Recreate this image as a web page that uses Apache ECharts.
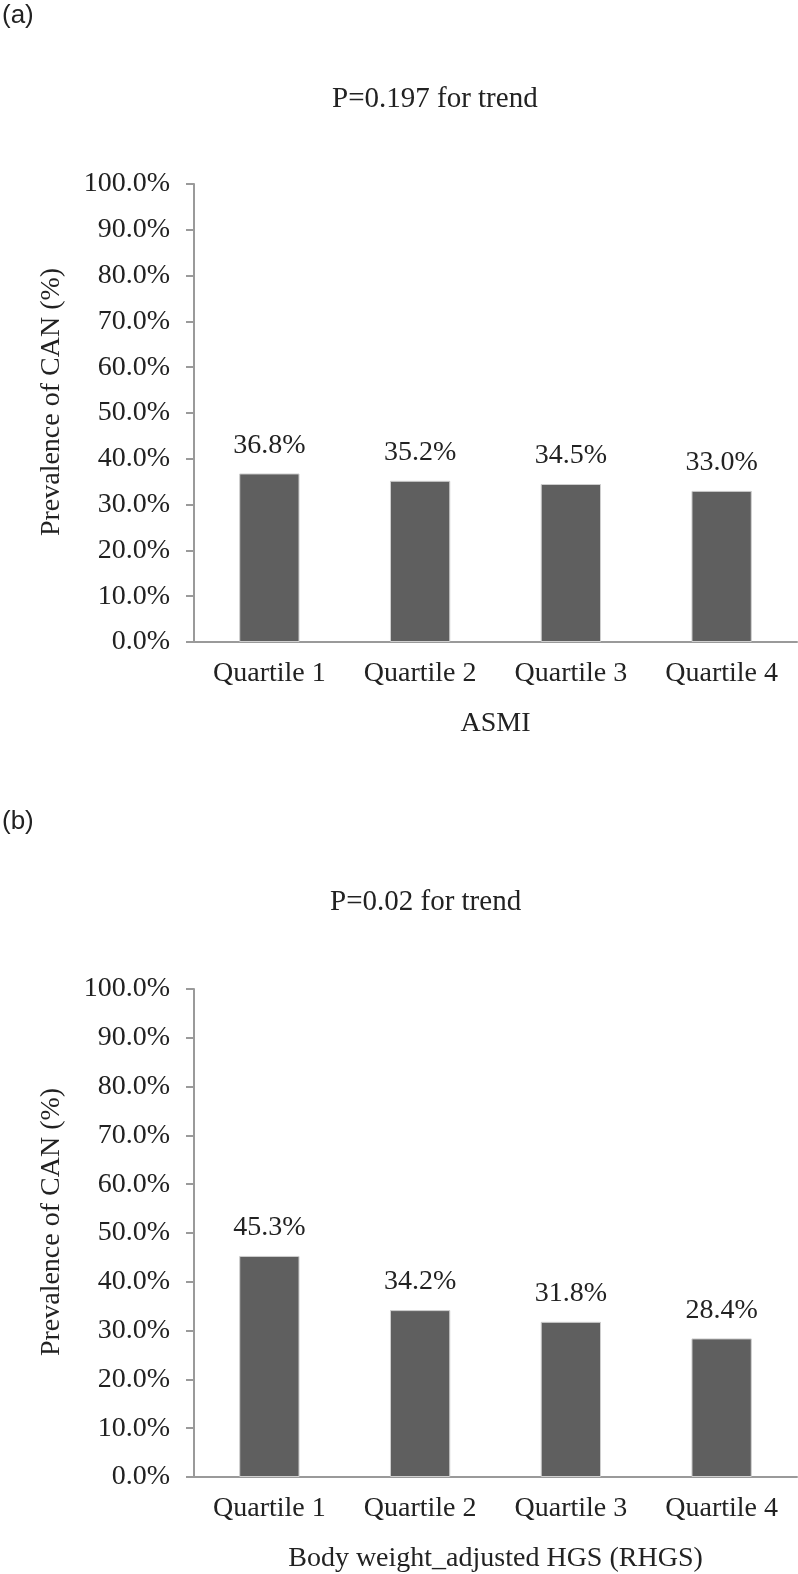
<!DOCTYPE html>
<html>
<head>
<meta charset="utf-8">
<script src="https://cdn.jsdelivr.net/npm/echarts@6/dist/echarts.min.js"></script>
<style>
  html, body { margin: 0; padding: 0; background: #fff; }
  #chart { width: 798px; height: 1574px; }
</style>
</head>
<body>
<div id="chart"></div>
<script>
// data
const categories = ['Quartile 1', 'Quartile 2', 'Quartile 3', 'Quartile 4'];
const asmiValues = [36.8, 35.2, 34.5, 33.0];
const rhgsValues = [45.3, 34.2, 31.8, 28.4];
const panelTags = ['(a)', '(b)'];
const trendTitles = ['P=0.197 for trend', 'P=0.02 for trend'];
const xNames = ['ASMI', 'Body weight_adjusted HGS (RHGS)'];
const yName = 'Prevalence of CAN (%)';

const serif = '"Liberation Serif", "Times New Roman", serif';
const textColor = '#222';
const axisColor = '#9a9a9a';
const barColor = '#5f5f5f';

const myChart = echarts.init(document.getElementById('chart'));

function makeX(idx) {
  return {
    type: 'category',
    gridIndex: idx,
    data: categories,
    name: xNames[idx],
    nameLocation: 'middle',
    nameGap: 68,
    nameTextStyle: { fontFamily: serif, fontSize: 28, color: textColor },
    axisLine: { lineStyle: { color: axisColor, width: 2 } },
    axisTick: { show: false },
    axisLabel: { fontFamily: serif, fontSize: 28, color: textColor, margin: 18 }
  };
}

function makeY(idx) {
  return {
    type: 'value',
    gridIndex: idx,
    min: 0,
    max: 100,
    interval: 10,
    name: yName,
    nameLocation: 'middle',
    nameGap: 128,
    // nudge the rotated title a bit upwards, like the original
    nameTextStyle: { fontFamily: serif, fontSize: 28, color: textColor, padding: [0, 0, 0, 22] },
    axisLine: { show: true, lineStyle: { color: axisColor, width: 2 } },
    axisTick: { show: true, length: 8, lineStyle: { color: axisColor, width: 2 } },
    splitLine: { show: false },
    axisLabel: {
      fontFamily: serif, fontSize: 28, color: textColor, margin: 24,
      formatter: v => v.toFixed(1) + '%'
    }
  };
}

function makeSeries(idx, values) {
  return {
    type: 'bar',
    xAxisIndex: idx,
    yAxisIndex: idx,
    data: values,
    barWidth: '40%',
    itemStyle: { color: barColor, borderColor: '#cfcfcf', borderWidth: 1 },
    label: {
      show: true,
      position: 'top',
      distance: 14,
      fontFamily: serif,
      fontSize: 28,
      color: textColor,
      formatter: p => p.value.toFixed(1) + '%'
    },
    silent: true
  };
}

const option = {
  backgroundColor: '#fff',
  animation: false,
  title: [
    { text: panelTags[0], left: -3, top: -2,
      textStyle: { fontFamily: '"Liberation Sans", sans-serif', fontSize: 26, fontWeight: 'normal', color: textColor } },
    { text: trendTitles[0], left: 327, top: 80,
      textStyle: { fontFamily: serif, fontSize: 29, fontWeight: 'normal', color: textColor } },
    { text: panelTags[1], left: -3, top: 804,
      textStyle: { fontFamily: '"Liberation Sans", sans-serif', fontSize: 26, fontWeight: 'normal', color: textColor } },
    { text: trendTitles[1], left: 325, top: 883,
      textStyle: { fontFamily: serif, fontSize: 29, fontWeight: 'normal', color: textColor } }
  ],
  grid: [
    { left: 194, right: 1, top: 184, height: 458 },
    { left: 194, right: 1, top: 989, height: 490 }
  ],
  xAxis: [makeX(0), makeX(1)],
  yAxis: [makeY(0), makeY(1)],
  series: [makeSeries(0, asmiValues), makeSeries(1, rhgsValues)]
};

myChart.setOption(option);
</script>
</body>
</html>
